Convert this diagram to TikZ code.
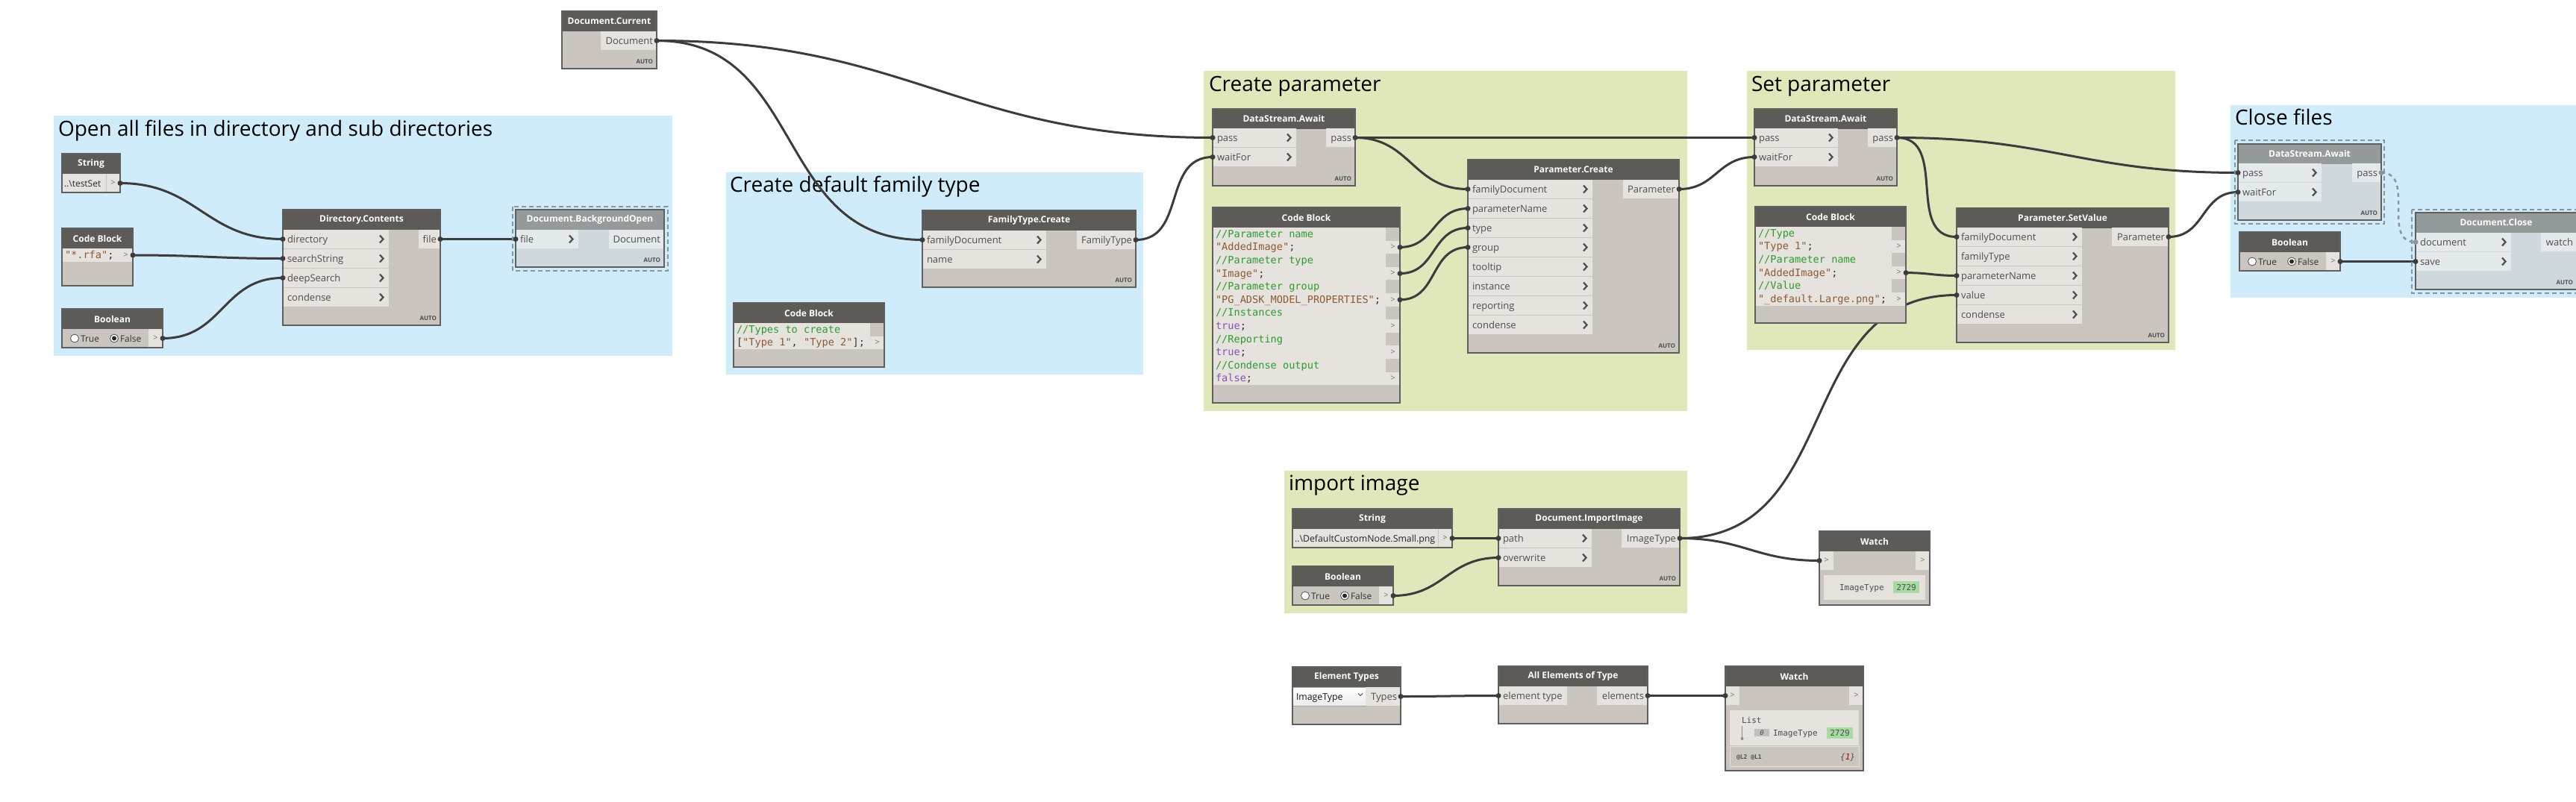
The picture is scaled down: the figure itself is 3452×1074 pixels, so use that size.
\documentclass[tikz,border=0pt]{standalone}
\usepackage{fontspec}
\setmainfont{Open Sans}
\setmonofont{DejaVu Sans Mono}
\pgfdeclarelayer{grp}
\pgfdeclarelayer{wirel}
\pgfsetlayers{grp,wirel,main}
\definecolor{grpblue}{HTML}{D0ECFB}
\definecolor{grpgreen}{HTML}{E0E8BB}
\definecolor{hdrc}{HTML}{5D5B58}
\definecolor{bodyc}{HTML}{CAC5BE}
\definecolor{portc}{HTML}{E6E3DF}
\definecolor{fbody}{HTML}{CFD8DC}
\definecolor{fhdr}{HTML}{959B9A}
\definecolor{fport}{HTML}{E4E9EB}
\definecolor{borderc}{HTML}{5F5F5F}
\definecolor{wirec}{HTML}{3C3C3C}
\definecolor{selc}{HTML}{8A959A}
\definecolor{labc}{HTML}{4E4E4E}
\definecolor{cmtc}{HTML}{2E9A2E}
\definecolor{strc}{HTML}{8C5A34}
\definecolor{kwc}{HTML}{8A52B2}
\definecolor{watchg}{HTML}{A8DBA4}
\colorlet{pf}{portc}
\tikzset{
 grpbox/.style={anchor=north west, inner sep=0pt, outer sep=0pt},
 grptitle/.style={inner sep=0pt, outer sep=0pt, anchor=base west, font=\fontsize{28}{32}\selectfont, text=black},
 nbody/.style={anchor=north west, inner sep=0pt, outer sep=0pt},
 hdrbox/.style={anchor=north west, inner sep=0pt, outer sep=0pt, minimum height=27pt, text=white, font=\fontsize{12}{14}\selectfont\bfseries},
 nborder/.style={draw=borderc, line width=1.3pt},
 plab/.style={inner sep=0pt, outer sep=0pt, text=labc, font=\fontsize{13}{15}\selectfont},
 chev/.style={draw=labc, line width=2.2pt, line join=miter},
 autot/.style={inner sep=0pt, outer sep=0pt, text=labc, font=\fontsize{8}{9}\selectfont\bfseries},
 codet/.style={inner sep=0pt, outer sep=0pt, text=black!80, font=\fontsize{13.6}{17.6}\ttfamily},
 gtt/.style={inner sep=0pt, outer sep=0pt, text=labc!80, font=\fontsize{11}{12}\selectfont},
 wtxt/.style={inner sep=0pt, outer sep=0pt, text=labc, font=\fontsize{11}{13}\ttfamily},
 wire/.style={draw=wirec, line width=3pt, out=0, in=180, looseness=1.15},
 dwire/.style={draw=selc, line width=2.5pt, dash pattern=on 5pt off 5pt, out=0, in=180, looseness=1.15},
 selbox/.style={draw=selc, line width=2.5pt, dash pattern=on 6pt off 4pt},
 pin/.style={fill=wirec},
}
\newcommand\dcm[1]{\textcolor{cmtc}{#1}}
\newcommand\dstr[1]{\textcolor{strc}{#1}}
\newcommand\dkw[1]{\textcolor{kwc}{#1}}
\newcommand\dynBody[6][bodyc]{\node[nbody,fill=#1,minimum width=#5,minimum height=#6] (#2) at ({#3},{#4}) {};}
\newcommand\dynHead[6][hdrc]{\node[hdrbox,fill=#1,minimum width=#5] (#2) at ({#3},{#4}) {#6};}
\newcommand\dynBorder[1]{\draw[nborder] (#1.north west) rectangle (#1.south east);}
\newcommand\dynIn[5]{%
 \fill[pf] ({#2},{#3}) rectangle ++(#4,25);
 \node[plab,anchor=base west] (#1-t) at ({#2+6},{#3+17.5}) {#5};
 \draw[chev] ({#2+#4-12},{#3+7.5}) -- ++(4.5,5) -- ++(-4.5,5);
 \coordinate (#1) at ({#2},{#3+12.5});}
\newcommand\dynOut[5]{%
 \fill[pf] ({#2-#4},{#3}) rectangle ({#2},{#3+25});
 \node[plab,anchor=base east] (#1-t) at ({#2-5},{#3+17.5}) {#5};
 \coordinate (#1) at ({#2},{#3+12.5});}
\newcommand\dynAuto[3]{\node[autot,anchor=base east] (#1) at ({#2-5},{#3-7}) {AUTO};}
\newcommand\dynLine[4]{\node[codet,anchor=base west] (#1) at ({#2},{#3+4.5}) {#4};}
\newcommand\dynGt[4]{%
 \fill[pf] ({#2},{#3}) rectangle ++(19,#4);
 \node[gtt] (#1-g) at ({#2+9.5},{#3+#4/2}) {>};
 \coordinate (#1) at ({#2+19},{#3+#4/2});}
\newcommand\dynRadio[4]{%
 \node[circle, draw=labc, fill=white, line width=0.8pt, minimum size=11pt, inner sep=0pt] (#1) at ({#2},{#3}) {};
 \ifnum#4=1 \fill[black!85] (#1.center) circle (3pt);\fi}
\newcommand\dynBool[3]{%
 \dynBody{#1}{#2}{#3}{135}{52}
 \dynHead{#1-h}{#2}{#3}{135}{Boolean}
 \dynRadio{#1-r1}{#2+17}{#3+39.5}{0}
 \node[plab,anchor=base west,text=black!80,font=\fontsize{12}{14}\selectfont] (#1-t1) at ({#2+25},{#3+44}) {True};
 \dynRadio{#1-r2}{#2+70}{#3+39.5}{1}
 \node[plab,anchor=base west,text=black!80,font=\fontsize{12}{14}\selectfont] (#1-t2) at ({#2+78},{#3+44}) {False};
 \dynGt{#1-out}{#2+116}{#3+27}{25}
 \dynBorder{#1}}
\begin{document}
\begin{tikzpicture}[x=1pt,y=-1pt]
\useasboundingbox (0,0) rectangle (3452,1074);
\begin{pgfonlayer}{grp}
\fill[white] (0,0) rectangle (3452,1074);
\node[grpbox,fill=grpblue,minimum width=829,minimum height=322] (g1) at (72,155) {};
\node[grptitle] (g1-t) at (78,182) {Open all files in directory and sub directories};
\node[grpbox,fill=grpblue,minimum width=559,minimum height=271] (g2) at (973,231) {};
\node[grptitle] (g2-t) at (978,257) {Create default family type};
\node[grpbox,fill=grpgreen,minimum width=648,minimum height=456] (g3) at (1613,95) {};
\node[grptitle] (g3-t) at (1620,122) {Create parameter};
\node[grpbox,fill=grpgreen,minimum width=574,minimum height=374] (g4) at (2341,95) {};
\node[grptitle] (g4-t) at (2347,122) {Set parameter};
\node[grpbox,fill=grpblue,minimum width=480,minimum height=258] (g5) at (2989,141) {};
\node[grptitle] (g5-t) at (2995,167) {Close files};
\node[grpbox,fill=grpgreen,minimum width=540,minimum height=191] (g6) at (1721,631) {};
\node[grptitle] (g6-t) at (1727,657) {import image};
\end{pgfonlayer}

% Document.Current
\dynBody{cur}{753}{15}{127}{77}
\dynHead{cur-h}{753}{15}{127}{Document.Current}
\dynOut{cur-doc}{880}{42}{75}{Document}
\dynAuto{cur-a}{880}{92}
\dynBorder{cur}

% String testSet
\dynBody{s1}{83}{206}{78}{52}
\dynHead{s1-h}{83}{206}{78}{String}
\fill[pf] (83,233) rectangle (142,258);
\node[plab,anchor=base west,text=black!85,font=\fontsize{12}{14}\selectfont] (s1-v) at (86,250) {..\textbackslash testSet};
\dynGt{s1-out}{142}{233}{25}
\draw[bodyc,line width=1pt] (142,233) -- (142,258);
\dynBorder{s1}

% Code block *.rfa
\dynBody{cb1}{83}{306}{95}{77}
\dynHead{cb1-h}{83}{306}{95}{Code Block}
\fill[pf] (83,333) rectangle (159,351);
\dynLine{cb1-l1}{87}{342}{\dstr{"*.rfa"};}
\dynGt{cb1-out}{159}{333}{18}
\dynBorder{cb1}

% Boolean 1
\dynBool{bo1}{83}{414}

% Directory.Contents
\dynBody{dc}{379}{281}{211}{155}
\dynHead{dc-h}{379}{281}{211}{Directory.Contents}
\dynIn{dc-dir}{379}{308}{142}{directory}
\dynIn{dc-ss}{379}{334}{142}{searchString}
\dynIn{dc-ds}{379}{360}{142}{deepSearch}
\dynIn{dc-cd}{379}{386}{142}{condense}
\dynOut{dc-file}{590}{308}{29}{file}
\dynAuto{dc-a}{590}{436}
\dynBorder{dc}

% Document.BackgroundOpen (frozen)
\colorlet{pf}{fport}
\dynBody[fbody]{bg}{691}{281}{199}{77}
\dynHead[fhdr]{bg-h}{691}{281}{199}{Document.BackgroundOpen}
\dynIn{bg-file}{691}{308}{84}{file}
\dynOut{bg-doc}{890}{308}{74}{Document}
\dynAuto{bg-a}{890}{358}
\dynBorder{bg}
\draw[selbox] (687,277) rectangle (895,363);
\colorlet{pf}{portc}

% FamilyType.Create
\dynBody{ft}{1236}{282}{286}{103}
\dynHead{ft-h}{1236}{282}{286}{FamilyType.Create}
\dynIn{ft-fd}{1236}{309}{166}{familyDocument}
\dynIn{ft-nm}{1236}{335}{166}{name}
\dynOut{ft-out}{1522}{309}{79}{FamilyType}
\dynAuto{ft-a}{1522}{385}
\dynBorder{ft}

% Code block types
\dynBody{cbt}{983}{406}{202}{86}
\dynHead{cbt-h}{983}{406}{202}{Code Block}
\fill[pf] (983,433) rectangle (1166,468.2);
\dynLine{cbt-l1}{987}{441.8}{\dcm{//Types to create}}
\dynLine{cbt-l2}{987}{459.4}{[\dstr{"Type 1"}, \dstr{"Type 2"}];}
\dynGt{cbt-o2}{1166}{450.6}{17.6}
\dynBorder{cbt}

% DataStream.Await 1
\dynBody{aw1}{1625}{146}{191}{103}
\dynHead{aw1-h}{1625}{146}{191}{DataStream.Await}
\dynIn{aw1-pass}{1625}{172}{112}{pass}
\dynIn{aw1-wait}{1625}{198}{112}{waitFor}
\dynOut{aw1-out}{1816}{172}{39}{pass}
\dynAuto{aw1-a}{1816}{249}
\dynBorder{aw1}

% Code block parameters
\dynBody{cbp}{1625}{278}{251}{262}
\dynHead{cbp-h}{1625}{278}{251}{Code Block}
\fill[pf] (1625,305) rectangle (1857,516.2);
\dynLine{cbp-l1}{1629}{313.8}{\dcm{//Parameter name}}
\dynLine{cbp-l2}{1629}{331.4}{\dstr{"AddedImage"};}
\dynLine{cbp-l3}{1629}{349.0}{\dcm{//Parameter type}}
\dynLine{cbp-l4}{1629}{366.6}{\dstr{"Image"};}
\dynLine{cbp-l5}{1629}{384.2}{\dcm{//Parameter group}}
\dynLine{cbp-l6}{1629}{401.8}{\dstr{"PG\_ADSK\_MODEL\_PROPERTIES"};}
\dynLine{cbp-l7}{1629}{419.4}{\dcm{//Instances}}
\dynLine{cbp-l8}{1629}{437.0}{\dkw{true};}
\dynLine{cbp-l9}{1629}{454.6}{\dcm{//Reporting}}
\dynLine{cbp-l10}{1629}{472.2}{\dkw{true};}
\dynLine{cbp-l11}{1629}{489.8}{\dcm{//Condense output}}
\dynLine{cbp-l12}{1629}{507.4}{\dkw{false};}
\dynGt{cbp-o2}{1857}{322.6}{17.6}
\dynGt{cbp-o4}{1857}{357.8}{17.6}
\dynGt{cbp-o6}{1857}{393.0}{17.6}
\dynGt{cbp-o8}{1857}{428.2}{17.6}
\dynGt{cbp-o10}{1857}{463.4}{17.6}
\dynGt{cbp-o12}{1857}{498.6}{17.6}
\dynBorder{cbp}

% Parameter.Create
\dynBody{pc}{1967}{214}{283}{259}
\dynHead{pc-h}{1967}{214}{283}{Parameter.Create}
\dynIn{pc-fd}{1967}{241}{167}{familyDocument}
\dynIn{pc-pn}{1967}{267}{167}{parameterName}
\dynIn{pc-ty}{1967}{293}{167}{type}
\dynIn{pc-gr}{1967}{319}{167}{group}
\dynIn{pc-tt}{1967}{345}{167}{tooltip}
\dynIn{pc-in}{1967}{371}{167}{instance}
\dynIn{pc-rp}{1967}{397}{167}{reporting}
\dynIn{pc-cd}{1967}{423}{167}{condense}
\dynOut{pc-out}{2250}{241}{75}{Parameter}
\dynAuto{pc-a}{2250}{473}
\dynBorder{pc}

% DataStream.Await 2
\dynBody{aw2}{2351}{146}{191}{103}
\dynHead{aw2-h}{2351}{146}{191}{DataStream.Await}
\dynIn{aw2-pass}{2351}{172}{112}{pass}
\dynIn{aw2-wait}{2351}{198}{112}{waitFor}
\dynOut{aw2-out}{2542}{172}{39}{pass}
\dynAuto{aw2-a}{2542}{249}
\dynBorder{aw2}

% Code block set
\dynBody{cbs}{2352}{277}{202}{156}
\dynHead{cbs-h}{2352}{277}{202}{Code Block}
\fill[pf] (2352,304) rectangle (2535,409.6);
\dynLine{cbs-l1}{2356}{312.8}{\dcm{//Type}}
\dynLine{cbs-l2}{2356}{330.4}{\dstr{"Type 1"};}
\dynLine{cbs-l3}{2356}{348.0}{\dcm{//Parameter name}}
\dynLine{cbs-l4}{2356}{365.6}{\dstr{"AddedImage"};}
\dynLine{cbs-l5}{2356}{383.2}{\dcm{//Value}}
\dynLine{cbs-l6}{2356}{400.8}{\dstr{"\_default.Large.png"};}
\dynGt{cbs-o2}{2535}{321.6}{17.6}
\dynGt{cbs-o4}{2535}{356.8}{17.6}
\dynGt{cbs-o6}{2535}{392.0}{17.6}
\dynBorder{cbs}

% Parameter.SetValue
\dynBody{sv}{2622}{279}{284}{180}
\dynHead{sv-h}{2622}{279}{284}{Parameter.SetValue}
\dynIn{sv-fd}{2622}{305}{168}{familyDocument}
\dynIn{sv-ft}{2622}{331}{168}{familyType}
\dynIn{sv-pn}{2622}{357}{168}{parameterName}
\dynIn{sv-va}{2622}{383}{168}{value}
\dynIn{sv-cd}{2622}{409}{168}{condense}
\dynOut{sv-out}{2906}{305}{76}{Parameter}
\dynAuto{sv-a}{2906}{459}
\dynBorder{sv}

% DataStream.Await 3 (frozen)
\colorlet{pf}{fport}
\dynBody[fbody]{aw3}{2999}{193}{192}{102}
\dynHead[fhdr]{aw3-h}{2999}{193}{192}{DataStream.Await}
\dynIn{aw3-pass}{2999}{219}{112}{pass}
\dynIn{aw3-wait}{2999}{245}{112}{waitFor}
\dynOut{aw3-out}{3191}{219}{39}{pass}
\dynAuto{aw3-a}{3191}{295}
\dynBorder{aw3}
\draw[selbox] (2995,188) rectangle (3195,300);

% Document.Close (frozen)
\dynBody[fbody]{dcl}{3237}{285}{216}{103}
\dynHead[fhdr]{dcl-h}{3237}{285}{216}{Document.Close}
\dynIn{dcl-doc}{3237}{312}{128}{document}
\dynIn{dcl-save}{3237}{338}{128}{save}
\dynOut{dcl-out}{3453}{312}{48}{watch}
\dynAuto{dcl-a}{3453}{388}
\dynBorder{dcl}
\draw[selbox] (3232,281) rectangle (3462,393);
\colorlet{pf}{portc}

% Boolean 3
\dynBool{bo3}{3001}{311}

% String image path
\dynBody{s2}{1732}{682}{214}{52}
\dynHead{s2-h}{1732}{682}{214}{String}
\fill[pf] (1732,709) rectangle (1927,734);
\node[plab,anchor=base west,text=black!85,font=\fontsize{12.3}{14}\selectfont] (s2-v) at (1735,726.5) {..\textbackslash DefaultCustomNode.Small.png};
\dynGt{s2-out}{1927}{709}{25}
\draw[bodyc,line width=1pt] (1927,709) -- (1927,734);
\dynBorder{s2}

% Boolean 2
\dynBool{bo2}{1732}{759}

% Document.ImportImage
\dynBody{ii}{2008}{682}{243}{103}
\dynHead{ii-h}{2008}{682}{243}{Document.ImportImage}
\dynIn{ii-path}{2008}{709}{125}{path}
\dynIn{ii-ow}{2008}{735}{125}{overwrite}
\dynOut{ii-out}{2251}{709}{78}{ImageType}
\dynAuto{ii-a}{2251}{785}
\dynBorder{ii}

% Watch 1
\dynBody{wt1}{2438}{712}{148}{99}
\dynHead{wt1-h}{2438}{712}{148}{Watch}
\fill[pf] (2438,739) rectangle (2457,764);
\node[gtt] (wt1-g1) at (2447.5,751.5) {>};
\coordinate (wt1-in) at (2438,751.5);
\fill[pf] (2567,739) rectangle (2586,764);
\node[gtt] (wt1-g2) at (2576.5,751.5) {>};
\fill[pf] (2444,771) rectangle (2580,804);
\node[wtxt,anchor=base west] (wt1-k) at (2465,791) {ImageType};
\fill[watchg] (2537,779) rectangle (2572,795);
\node[wtxt] (wt1-v) at (2554.5,787) {2729};
\dynBorder{wt1}

% Element Types
\dynBody{et}{1732}{894}{145}{77}
\dynHead{et-h}{1732}{894}{145}{Element Types}
\shade[top color=white, bottom color=black!8, draw=black!35, line width=0.8pt] (1732,921) rectangle (1830,946);
\node[plab,anchor=base west,text=black!90,font=\fontsize{12.3}{14}\selectfont] (et-v) at (1737,938) {ImageType};
\draw[labc,line width=0.8pt] (1820,929.5) -- (1823,932.5) -- (1826,929.5);
\dynOut{et-out}{1877}{921}{47}{Types}
\dynBorder{et}

% All Elements of Type
\dynBody{ae}{2008}{893}{200}{77}
\dynHead{ae-h}{2008}{893}{200}{All Elements of Type}
\fill[pf] (2008,920) rectangle (2100,945);
\node[plab,anchor=base west] (ae-in-t) at (2014,937.5) {element type};
\coordinate (ae-in) at (2008,932.5);
\dynOut{ae-out}{2208}{920}{68}{elements}
\dynBorder{ae}

% Watch 2
\dynBody{wt2}{2312}{893}{185}{140}
\dynHead{wt2-h}{2312}{893}{185}{Watch}
\fill[pf] (2312,920) rectangle (2331,945);
\node[gtt] (wt2-g1) at (2321.5,932.5) {>};
\coordinate (wt2-in) at (2312,932.5);
\fill[pf] (2478,920) rectangle (2497,945);
\node[gtt] (wt2-g2) at (2487.5,932.5) {>};
\fill[pf] (2318,952) rectangle (2491,999);
\node[wtxt,anchor=base west] (wt2-list) at (2334,969) {List};
\draw[black!45,line width=1pt] (2334.5,973) -- (2334.5,989);
\fill[black!45] (2334.5,990) circle (2pt);
\fill[black!25] (2351,977) rectangle (2371,987);
\node[wtxt,font=\fontsize{9}{10}\ttfamily\itshape] (wt2-i) at (2361,982) {0};
\node[wtxt,anchor=base west] (wt2-k) at (2376,986) {ImageType};
\fill[watchg] (2448,975) rectangle (2483,990);
\node[wtxt] (wt2-v) at (2465.5,982.5) {2729};
\draw[fill=bodyc,draw=black!12,line width=0.8pt] (2318,1000) rectangle (2491,1027);
\node[wtxt,anchor=base west,font=\fontsize{8}{9}\ttfamily\bfseries] (wt2-lv) at (2327,1017) {@L2 @L1};
\node[wtxt,anchor=base east,font=\fontsize{11}{12}\ttfamily\itshape] (wt2-c) at (2486,1018) {\{\textcolor{red!70!black}{1}\}};
\dynBorder{wt2}

% wires
\begin{pgfonlayer}{wirel}
\draw[wire] (s1-out) to (dc-dir);
\draw[wire] (cb1-out) to (dc-ss);
\draw[wire] (bo1-out) to (dc-ds);
\draw[wire] (dc-file) to (bg-file);
\draw[wire] (cur-doc) to (ft-fd);
\draw[wire] (cur-doc) to (aw1-pass);
\draw[wire] (ft-out) to (aw1-wait);
\draw[wire] (aw1-out) to (aw2-pass);
\draw[wire] (aw1-out) to (pc-fd);
\draw[wire] (cbp-o2) to (pc-pn);
\draw[wire] (cbp-o4) to (pc-ty);
\draw[wire] (cbp-o6) to (pc-gr);
\draw[wire] (pc-out) to (aw2-wait);
\draw[wire] (aw2-out) to (aw3-pass);
\draw[wire] (aw2-out) to (sv-fd);
\draw[wire] (cbs-o4) to (sv-pn);
\draw[wire] (ii-out) to (sv-va);
\draw[wire] (sv-out) to (aw3-wait);
\draw[dwire] (aw3-out) to (dcl-doc);
\draw[wire] (bo3-out) to (dcl-save);
\draw[wire] (s2-out) to (ii-path);
\draw[wire] (bo2-out) to (ii-ow);
\draw[wire] (ii-out) to (wt1-in);
\draw[wire] (et-out) to (ae-in);
\draw[wire] (ae-out) to (wt2-in);
\end{pgfonlayer}

% port pins
\foreach \p in {s1-out,cb1-out,bo1-out,dc-dir,dc-ss,dc-ds,dc-file,bg-file,cur-doc,ft-fd,ft-out,aw1-pass,aw1-wait,aw1-out,aw2-pass,aw2-wait,aw2-out,pc-fd,pc-pn,pc-ty,pc-gr,pc-out,cbp-o2,cbp-o4,cbp-o6,sv-fd,sv-pn,sv-va,sv-out,cbs-o4,aw3-pass,aw3-wait,dcl-save,bo3-out,s2-out,bo2-out,ii-path,ii-ow,ii-out,wt1-in,et-out,ae-in,ae-out,wt2-in}
  {\fill[pin] (\p) circle (3.5pt);}
\fill[selc] (aw3-out) circle (3.5pt);
\fill[selc] (dcl-doc) circle (3.5pt);
\end{tikzpicture}
\end{document}
